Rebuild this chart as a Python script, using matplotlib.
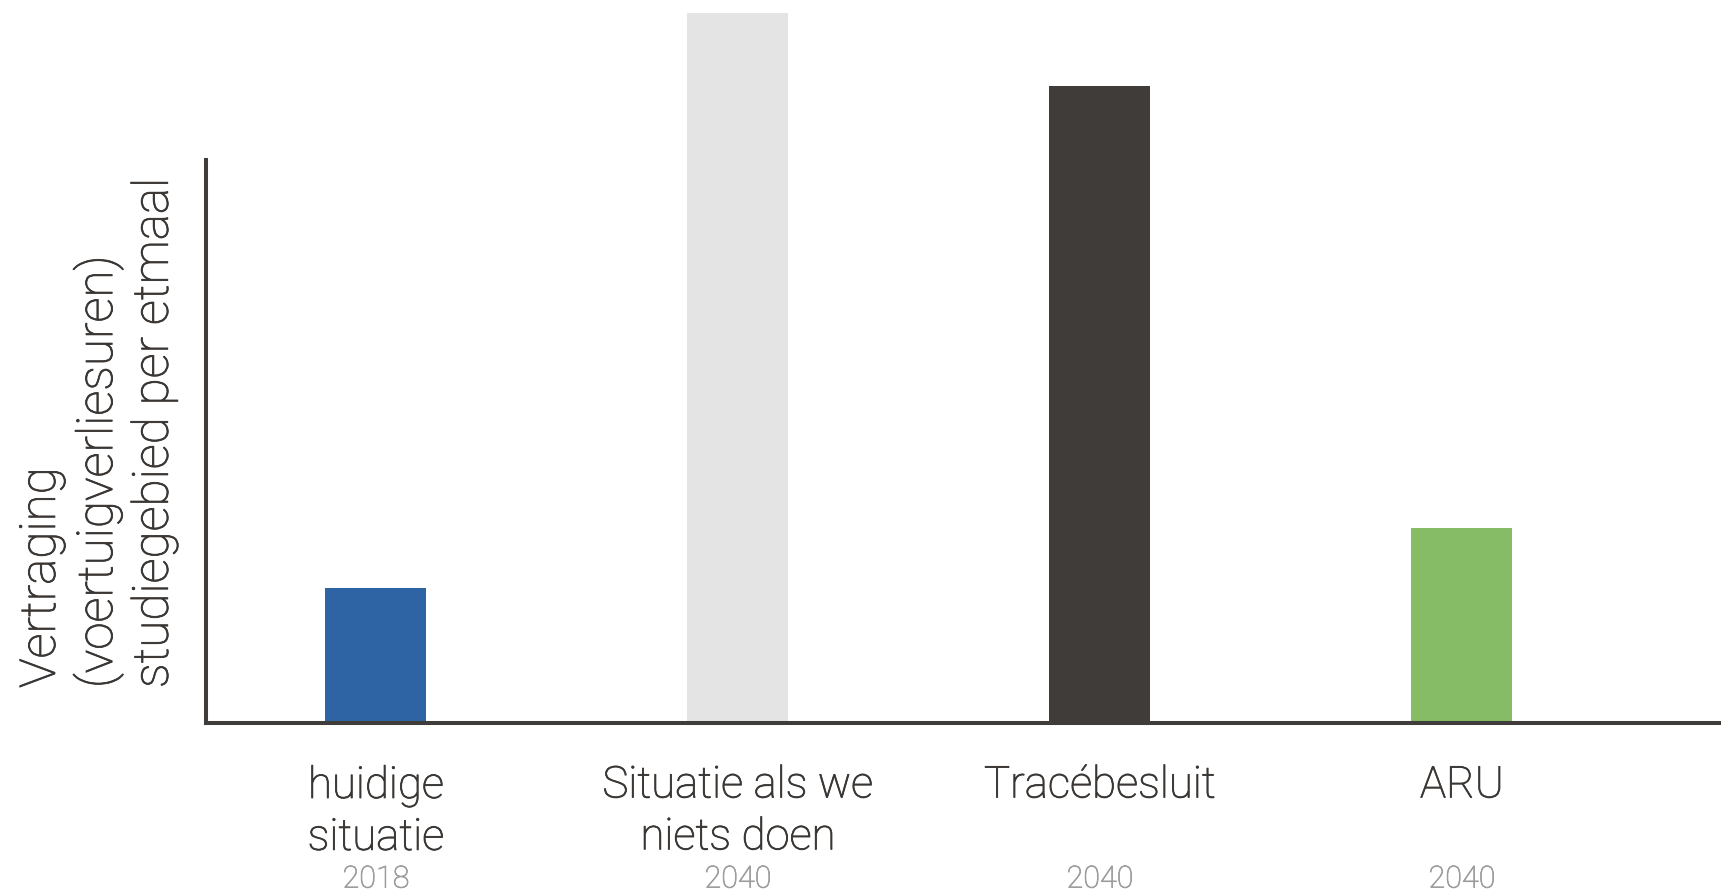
import matplotlib.pyplot as plt
import matplotlib.transforms as mtransforms
import matplotlib.patheffects as pe

# data
categories = ['huidige\nsituatie', 'Situatie als we\nniets doen', 'Tracébesluit', 'ARU']
years = ['2018', '2040', '2040', '2040']
values = [19.0, 100.0, 89.7, 27.5]
colors = ['#2E64A3', '#E4E4E4', '#403C39', '#86BC65']
ylabel = 'Vertraging\n(voertuigverliesuren)\nstudiegebied per etmaal'

text_col = '#3A3633'
year_col = '#9C9C9C'
axis_col = '#403C39'

plt.rcParams['font.family'] = ['Roboto', 'DejaVu Sans']

fig = plt.figure(figsize=(17.21, 8.93), dpi=100)
ax = fig.add_axes([0.1197, 0.1904, 0.8803, 0.795])

x = list(range(len(values)))
ax.bar(x, values, width=0.279, color=colors, zorder=1)

ax.set_xlim(-0.4696, 3.7155)
ax.set_ylim(0, 100)
ax.set_xticks([])
ax.set_yticks([])

for s in ['top', 'right']:
    ax.spines[s].set_visible(False)
for s in ['left', 'bottom']:
    ax.spines[s].set_color(axis_col)
    ax.spines[s].set_linewidth(2.9)
    ax.spines[s].set_zorder(3)
ax.spines['left'].set_bounds(0, 79.3)

# slightly heavier than Roboto Light
thick = [pe.withStroke(linewidth=0.6, foreground=text_col)]
thick_y = [pe.withStroke(linewidth=0.5, foreground=year_col)]

# labels under the bars
trans = mtransforms.blended_transform_factory(ax.transData, fig.transFigure)
for i, (cat, yr) in enumerate(zip(categories, years)):
    ax.text(i, 0.1445, cat, transform=trans, ha='center', va='top',
            fontsize=31.5, fontweight='light', color=text_col, linespacing=1.28,
            path_effects=thick)
    ax.text(i, 0.006, yr, transform=trans, ha='center', va='baseline',
            fontsize=22, fontweight='light', color=year_col, path_effects=thick_y)

fig.text(0.011, 0.2296, ylabel, rotation=90, ha='left', va='bottom',
         fontsize=35.6, fontweight='light', color=text_col, linespacing=1.22,
         multialignment='left', path_effects=thick)

fig.savefig('out.png', dpi=100, facecolor='white')
